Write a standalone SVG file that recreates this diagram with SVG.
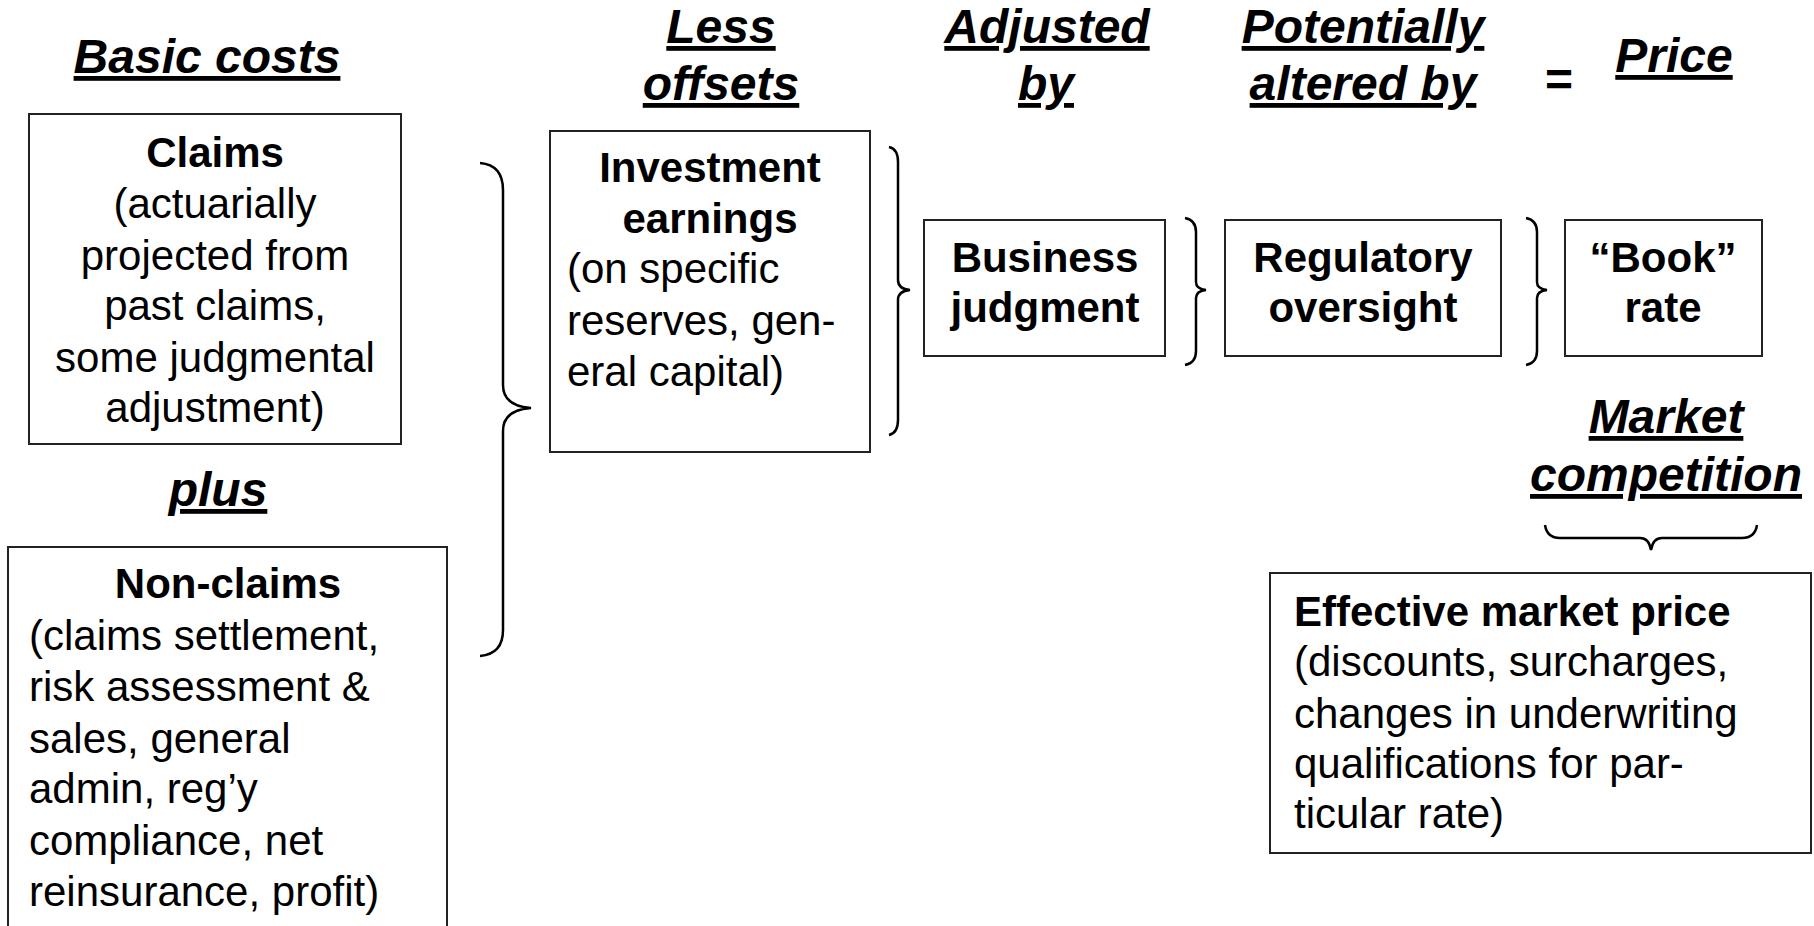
<svg xmlns="http://www.w3.org/2000/svg" width="1814" height="926" viewBox="0 0 1814 926">
<style>
.hd{font-family:"Liberation Sans",Arial,sans-serif;font-weight:bold;font-style:italic;font-size:48px;text-decoration:underline;text-decoration-thickness:4px;text-underline-offset:7px;fill:#000;text-anchor:middle}
.eq{font-family:"Liberation Sans",Arial,sans-serif;font-weight:bold;font-size:48px;fill:#000;text-anchor:middle}
.box{fill:#fff;stroke:#222;stroke-width:2}
.t{font-family:"Liberation Sans",Arial,sans-serif;font-size:42px;fill:#000}
.b{font-weight:bold}
.c{text-anchor:middle}
.br{fill:none;stroke:#000;stroke-width:2.5}
</style>
<g id="headers">
<text class="hd" x="207" y="73">Basic costs</text>
<text class="hd" x="721" y="43">Less</text>
<text class="hd" x="721" y="100">offsets</text>
<text class="hd" x="1047" y="43">Adjusted</text>
<text class="hd" x="1046" y="100">by</text>
<text class="hd" x="1363" y="43">Potentially</text>
<text class="hd" x="1363" y="100">altered by</text>
<text class="eq" x="1559" y="96">=</text>
<text class="hd" x="1674" y="72">Price</text>
<text class="hd" x="218" y="506">plus</text>
<text class="hd" x="1666" y="433">Market</text>
<text class="hd" x="1666" y="491">competition</text>
</g>
<g id="claims">
<rect class="box" x="29" y="114" width="372" height="330"/>
<text class="t c" x="215"><tspan class="b" x="215" y="167">Claims</tspan><tspan x="215" y="218">(actuarially</tspan><tspan x="215" y="270">projected from</tspan><tspan x="215" y="320">past claims,</tspan><tspan x="215" y="372">some judgmental</tspan><tspan x="215" y="422">adjustment)</tspan></text>
</g>
<g id="nonclaims">
<rect class="box" x="8" y="547" width="439" height="400"/>
<text class="t"><tspan class="b c" x="228" y="598">Non-claims</tspan><tspan x="29" y="650">(claims settlement,</tspan><tspan x="29" y="701">risk assessment &amp;</tspan><tspan x="29" y="753">sales, general</tspan><tspan x="29" y="803">admin, reg’y</tspan><tspan x="29" y="855">compliance, net</tspan><tspan x="29" y="906">reinsurance, profit)</tspan></text>
</g>
<g id="investment">
<rect class="box" x="550" y="131" width="320" height="321"/>
<text class="t"><tspan class="b c" x="710" y="182">Investment</tspan><tspan class="b c" x="710" y="233">earnings</tspan><tspan x="567" y="283">(on specific</tspan><tspan x="567" y="335">reserves, gen-</tspan><tspan x="567" y="386">eral capital)</tspan></text>
</g>
<g id="business">
<rect class="box" x="924" y="220" width="241" height="136"/>
<text class="t b c"><tspan x="1045" y="272">Business</tspan><tspan x="1045" y="322">judgment</tspan></text>
</g>
<g id="regulatory">
<rect class="box" x="1225" y="220" width="276" height="136"/>
<text class="t b c"><tspan x="1363" y="272">Regulatory</tspan><tspan x="1363" y="322">oversight</tspan></text>
</g>
<g id="book">
<rect class="box" x="1565" y="220" width="197" height="136"/>
<text class="t b c"><tspan x="1663" y="272">“Book”</tspan><tspan x="1663" y="322">rate</tspan></text>
</g>
<g id="effective">
<rect class="box" x="1270" y="573" width="541" height="280"/>
<text class="t"><tspan class="b" x="1294" y="626">Effective market price</tspan><tspan x="1294" y="676">(discounts, surcharges,</tspan><tspan x="1294" y="728">changes in underwriting</tspan><tspan x="1294" y="778">qualifications for par-</tspan><tspan x="1294" y="828">ticular rate)</tspan></text>
</g>
<g id="connectors">
<path class="br" d="M480,163 Q503,165 503,190 L503,385 Q503,406 531,408 Q503,410 503,431 L503,630 Q503,654 480,656"/>
<path class="br" d="M889,147 Q898,149 898,162 L898,280 Q898,289 910,290 Q898,291 898,300 L898,420 Q898,433 889,435"/>
<path class="br" d="M1185,218 Q1196,220 1196,232 L1196,282 Q1196,289 1206,290 Q1196,291 1196,298 L1196,351 Q1196,363 1185,365"/>
<path class="br" d="M1526,218 Q1537,220 1537,232 L1537,282 Q1537,289 1547,290 Q1537,291 1537,298 L1537,351 Q1537,363 1526,365"/>
<path class="br" d="M1545,525 Q1547,538 1560,538 L1640,538 Q1649,538 1651,550 Q1653,538 1662,538 L1742,538 Q1755,538 1757,525"/>
</g>
</svg>
